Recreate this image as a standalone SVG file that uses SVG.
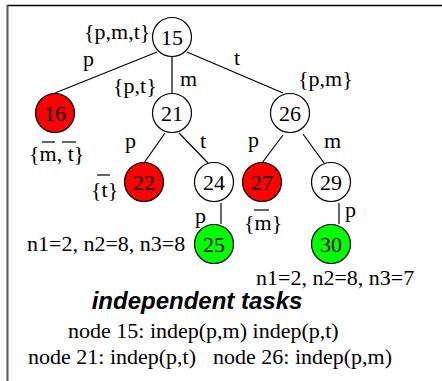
<svg xmlns="http://www.w3.org/2000/svg" width="442" height="381" viewBox="0 0 442 381">
<style>
text{font-family:"Liberation Serif","Times New Roman",serif;font-size:22px;fill:#000}
.n circle{stroke:#000;stroke-width:1.2}
.n text{text-anchor:middle}
.w{fill:#fff}.r{fill:#ff0000}.g{fill:#00ff00}
#edges line{stroke:#000;stroke-width:1.2}
.bar{stroke:#000;stroke-width:1.2}
.title{font-family:"Liberation Sans",Arial,sans-serif;font-weight:bold;font-style:italic;font-size:24px;text-anchor:middle}
</style>
<rect width="442" height="381" fill="#fff"/>
<line x1="7" y1="5.5" x2="442" y2="5.5" stroke="#000" stroke-width="1.5"/>
<line x1="7.5" y1="5" x2="7.5" y2="381" stroke="#555" stroke-width="2"/>
<g id="edges">
<line x1="157" y1="52" x2="55" y2="93"/>
<line x1="172" y1="57" x2="172" y2="93"/>
<line x1="187" y1="52" x2="283" y2="93"/>
<line x1="165" y1="133" x2="144" y2="163"/>
<line x1="179" y1="133" x2="208" y2="163"/>
<line x1="283" y1="135" x2="262" y2="163"/>
<line x1="303" y1="134" x2="324" y2="163"/>
<line x1="221" y1="203" x2="221" y2="224"/>
<line x1="339" y1="203" x2="339" y2="224" style="stroke:#666;stroke-width:2"/>
</g>
<g id="n15" class="n"><circle class="w" cx="172" cy="37" r="19.5"/><text x="172" y="44.5">15</text></g>
<g id="n16" class="n"><circle class="r" cx="55" cy="113" r="19.5"/><text x="55" y="120.5">16</text></g>
<g id="n21" class="n"><circle class="w" cx="172" cy="113" r="19.5"/><text x="172" y="120.5">21</text></g>
<g id="n26" class="n"><circle class="w" cx="290" cy="113" r="19.5"/><text x="290" y="120.5">26</text></g>
<g id="n22" class="n"><circle class="r" cx="144" cy="182" r="19.5"/><text x="144" y="189.5">22</text></g>
<g id="n24" class="n"><circle class="w" cx="214" cy="182" r="19.5"/><text x="214" y="189.5">24</text></g>
<g id="n27" class="n"><circle class="r" cx="262" cy="182" r="19.5"/><text x="262" y="189.5">27</text></g>
<g id="n29" class="n"><circle class="w" cx="331" cy="182" r="19.5"/><text x="331" y="189.5">29</text></g>
<g id="n25" class="n"><circle class="g" cx="214" cy="244" r="19.5"/><text x="214" y="251.5">25</text></g>
<g id="n30" class="n"><circle class="g" cx="331" cy="244" r="19.5"/><text x="331" y="251.5">30</text></g>
<g id="labels">
<text x="84" y="39">{p,m,t}</text>
<text x="83" y="66">p</text>
<text x="113" y="93">{p,t}</text>
<text x="180" y="86">m</text>
<text x="234" y="65">t</text>
<text x="298" y="86">{p,m}</text>
<text x="29" y="161">{m, t}</text>
<line class="bar" x1="42" y1="142" x2="55" y2="142"/>
<line class="bar" x1="62" y1="142" x2="76" y2="142"/>
<text x="125" y="148">p</text>
<text x="200" y="148">t</text>
<text x="248" y="147">p</text>
<text x="324" y="148">m</text>
<text x="91" y="197">{t}</text>
<line class="bar" x1="97" y1="175" x2="110" y2="175"/>
<text x="244" y="230">{m}</text>
<line class="bar" x1="254" y1="210" x2="269" y2="210"/>
<text x="195" y="223">p</text>
<text x="345" y="217">p</text>
<text x="27" y="251">n1=2, n2=8, n3=8</text>
<text x="256" y="285">n1=2, n2=8, n3=7</text>
</g>
<g id="legend">
<text class="title" x="197" y="309">independent tasks</text>
<text x="68" y="338">node 15: indep(p,m) indep(p,t)</text>
<text x="28" y="364">node 21: indep(p,t)</text>
<text x="213" y="364">node 26: indep(p,m)</text>
</g>
</svg>
